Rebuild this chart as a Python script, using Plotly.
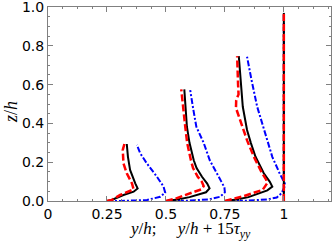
import plotly.graph_objects as go

# ---- data (y/h positions and z/h heights) ----
# station 0.25
z_k1 = [0, 0.005, 0.031, 0.048, 0.065, 0.091, 0.16, 0.228, 0.294]
x_k1 = [0.25, 0.27, 0.32, 0.363, 0.38, 0.37, 0.348, 0.339, 0.334]
z_r1 = [0, 0.005, 0.031, 0.052, 0.06, 0.091, 0.143, 0.194, 0.263, 0.294]
x_r1 = [0.25, 0.27, 0.306, 0.348, 0.363, 0.356, 0.334, 0.32, 0.317, 0.324]
z_b1 = [0, 0.0, 0.005, 0.022, 0.043, 0.074, 0.125, 0.194, 0.246, 0.289]
x_b1 = [0.25, 0.306, 0.42, 0.476, 0.497, 0.49, 0.462, 0.419, 0.391, 0.377]

# station 0.5
z_k2 = [0, 0.008, 0.02, 0.033, 0.045, 0.065, 0.09, 0.125, 0.17, 0.21, 0.3, 0.383, 0.48, 0.576]
x_k2 = [0.5, 0.55, 0.60, 0.64, 0.67, 0.685, 0.675, 0.653, 0.63, 0.618, 0.60, 0.589, 0.582, 0.578]
z_r2 = [0, 0.012, 0.03, 0.045, 0.06, 0.077, 0.1, 0.125, 0.17, 0.21, 0.3, 0.383, 0.48, 0.576]
x_r2 = [0.5, 0.54, 0.58, 0.62, 0.65, 0.66, 0.652, 0.635, 0.615, 0.606, 0.59, 0.582, 0.572, 0.565]
z_b2 = [0, 0.002, 0.008, 0.022, 0.045, 0.07, 0.1, 0.125, 0.175, 0.21, 0.3, 0.383, 0.48, 0.572]
x_b2 = [0.5, 0.6, 0.68, 0.73, 0.75, 0.748, 0.735, 0.724, 0.70, 0.686, 0.66, 0.629, 0.615, 0.603]

# station 0.75
z_k3 = [0, 0.008, 0.02, 0.04, 0.055, 0.074, 0.1, 0.143, 0.228, 0.3, 0.366, 0.486, 0.624, 0.747]
x_k3 = [0.75, 0.80, 0.85, 0.894, 0.93, 0.951, 0.94, 0.915, 0.88, 0.86, 0.844, 0.826, 0.816, 0.809]
z_r3 = [0, 0.012, 0.025, 0.04, 0.057, 0.091, 0.11, 0.143, 0.228, 0.31, 0.366, 0.43, 0.48, 0.52, 0.55, 0.6, 0.68, 0.747]
x_r3 = [0.75, 0.79, 0.83, 0.866, 0.91, 0.929, 0.925, 0.908, 0.873, 0.845, 0.83, 0.81, 0.797, 0.798, 0.808, 0.806, 0.803, 0.802]
z_b3 = [0, 0.002, 0.008, 0.018, 0.04, 0.07, 0.091, 0.11, 0.143, 0.228, 0.366, 0.486, 0.624, 0.744]
x_b3 = [0.75, 0.85, 0.93, 0.97, 0.99, 1.002, 1.004, 0.995, 0.982, 0.951, 0.915, 0.887, 0.863, 0.844]

# station 1.0
z_k4 = [0, 0.97]
x_k4 = [1.0, 1.0]
z_r4 = [0, 0.97]
x_r4 = [1.0, 1.0]
z_b4 = [0, 0.97]
x_b4 = [1.0, 1.0]

x_tickvals = [0, 0.25, 0.5, 0.75, 1]
x_ticktext = ["0", "0.25", "0.5", "0.75", "1"]
y_tickvals = [0, 0.2, 0.4, 0.6, 0.8, 1.0]
y_ticktext = ["0.0", "0.2", "0.4", "0.6", "0.8", "1.0"]

fig = go.Figure()
blue = [(x_b1, z_b1), (x_b2, z_b2), (x_b3, z_b3), (x_b4, z_b4)]
black = [(x_k1, z_k1), (x_k2, z_k2), (x_k3, z_k3), (x_k4, z_k4)]
red = [(x_r1, z_r1), (x_r2, z_r2), (x_r3, z_r3), (x_r4, z_r4)]

for xs, zs in blue:
    fig.add_trace(go.Scatter(x=xs, y=zs, mode="lines",
                             line=dict(color="#0000ff", width=2, dash="6px,2px,2px,2px"),
                             showlegend=False))
for xs, zs in black:
    fig.add_trace(go.Scatter(x=xs, y=zs, mode="lines",
                             line=dict(color="#000000", width=2),
                             showlegend=False))
for xs, zs in red:
    fig.add_trace(go.Scatter(x=xs, y=zs, mode="lines",
                             line=dict(color="#ff0000", width=2.5, dash="7px,3px"),
                             showlegend=False))

axis_common = dict(
    showgrid=False, zeroline=False, showline=True, linecolor="#808080", linewidth=1,
    mirror="allticks", ticks="inside", ticklen=5, tickcolor="#808080", tickwidth=1,
    tickfont=dict(family="DejaVu Sans", size=14, color="#000000"),
    automargin=False, ticklabeloverflow="allow",
)

fig.update_xaxes(
    range=[0, 1.2], tickmode="array", tickvals=x_tickvals, ticktext=x_ticktext,
    minor=dict(ticks="inside", ticklen=2, tickcolor="#808080", dtick=0.0625, tick0=0),
    ticklabelstandoff=0,
    **axis_common,
)
fig.update_yaxes(
    range=[0, 1.0005], tickmode="array", tickvals=y_tickvals, ticktext=y_ticktext,
    minor=dict(ticks="inside", ticklen=2, tickcolor="#808080", dtick=0.05, tick0=0),
    **axis_common,
)

fig.add_annotation(
    text="<i>y</i>/<i>h</i>;&nbsp;&nbsp;&nbsp;&nbsp; <i>y</i>/<i>h</i> + 15<i>τ</i><sub><i>yy</i></sub>",
    xref="paper", yref="paper", x=0.5, y=0, yshift=-29, xanchor="center", yanchor="middle",
    showarrow=False, font=dict(family="Liberation Serif", size=17, color="#000000"),
)
fig.add_annotation(
    text="<i>z</i>/<i>h</i>",
    xref="paper", yref="paper", x=0, y=0.5, xshift=-37, yshift=-8, xanchor="center", yanchor="middle",
    textangle=-90, showarrow=False,
    font=dict(family="Liberation Serif", size=18, color="#000000"),
)

fig.update_layout(
    width=332, height=241,
    margin=dict(l=48, r=1, t=7, b=40, autoexpand=False),
    plot_bgcolor="#ffffff", paper_bgcolor="#ffffff",
)

fig.write_html("out.html", config={"displayModeBar": False},
               post_script="document.body.style.margin='0';")
